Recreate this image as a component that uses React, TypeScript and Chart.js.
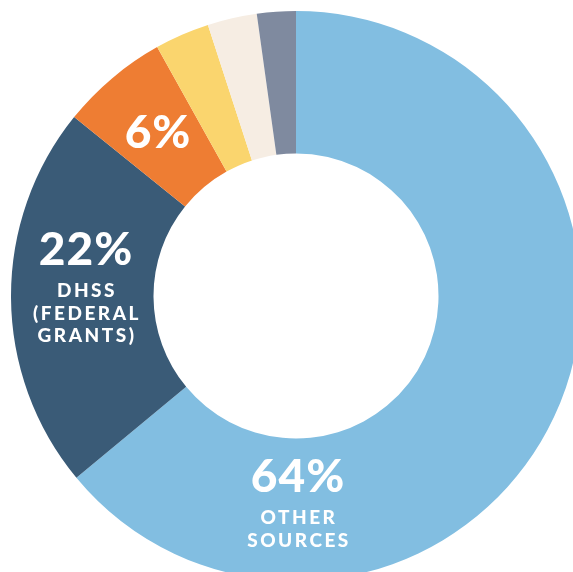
import React, { useEffect, useRef } from "react";
import { Chart, registerables } from "chart.js";

Chart.register(...registerables);

const categories = ["Other Sources", "DHSS (Federal Grants)", "Third", "Fourth", "Fifth", "Sixth"];
const values = [64, 21.8, 6.1, 3.1, 2.8, 2.2];
const colors = ["#82BEE1", "#3A5B77", "#EE7D33", "#FAD56E", "#F6EDE3", "#7F8A9F"];
const bigLabels = ["64%", "22%", "6%"];
const smallLabels: string[][] = [["OTHER", "SOURCES"], ["DHSS", "(FEDERAL", "GRANTS)"], []];

const labelPlugin = {
  id: "labels",
  afterDatasetsDraw(chart: any) {
    const ctx = chart.ctx;
    const arc = chart.getDatasetMeta(0).data[0];
    const cx = arc.x;
    const cy = arc.y;
    const anchors = [
      { x: cx + 2, big: cy + 196, small: [cy + 228, cy + 251] },
      { x: cx - 210, big: cy - 31, small: [cy + 1, cy + 24, cy + 46] },
      { x: cx - 138, big: cy - 148, small: [] as number[] },
    ];
    ctx.save();
    ctx.fillStyle = "#FFFFFF";
    ctx.textAlign = "center";
    ctx.textBaseline = "alphabetic";
    anchors.forEach((a, i) => {
      ctx.font = "900 46px Lato";
      (ctx as any).letterSpacing = "1px";
      ctx.fillText(bigLabels[i], a.x, a.big);
      ctx.font = "900 19px Lato";
      (ctx as any).letterSpacing = "2.5px";
      smallLabels[i].forEach((t, j) => {
        ctx.fillText(t, a.x + 1, a.small[j]);
      });
    });
    ctx.restore();
  },
};

export default function App() {
  const ref = useRef<HTMLCanvasElement>(null);
  useEffect(() => {
    if (!ref.current) return;
    const chart = new Chart(ref.current, {
      type: "doughnut",
      data: {
        labels: categories,
        datasets: [
          {
            data: values,
            backgroundColor: colors,
            borderWidth: 0,
          },
        ],
      },
      options: {
        responsive: false,
        animation: false,
        cutout: "50%",
        layout: { padding: 0 },
        plugins: { legend: { display: false }, tooltip: { enabled: false } },
      },
      plugins: [labelPlugin],
    });
    return () => chart.destroy();
  }, []);
  return (
    <div
      style={{
        position: "fixed",
        left: 0,
        top: 0,
        width: 573,
        height: 572,
        overflow: "hidden",
        background: "#FFFFFF",
      }}
    >
      <canvas
        ref={ref}
        width={570}
        height={570}
        style={{ position: "absolute", left: 11, top: 11, width: 570, height: 570 }}
      />
    </div>
  );
}
